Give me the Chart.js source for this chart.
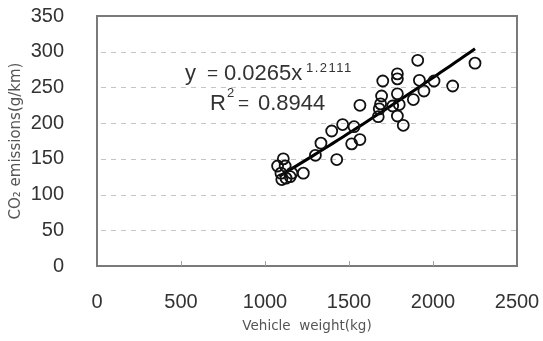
<!DOCTYPE html>
<html>
<head>
<meta charset="utf-8">
<script src="https://cdn.jsdelivr.net/npm/chart.js@4"></script>
<style>
  html, body { margin: 0; padding: 0; background: #fff; }
  #wrap { width: 543px; height: 341px; }
</style>
</head>
<body>
<div id="wrap"><canvas id="co2"></canvas></div>
<script>
// vehicle weight (kg) and CO2 emissions (g/km) per vehicle
const weights = [1909, 2250, 1701, 1788, 1788, 1919, 2006, 2117, 1694, 1788,
                 1946, 1883, 1688, 1760, 1799, 1674, 1788, 1823, 1565, 1680,
                 1397, 1462, 1530, 1516, 1565, 1427, 1333, 1300,
                 1109, 1075, 1095, 1100, 1125, 1150, 1160, 1228, 1120]
const emissions = [288, 284, 259, 269, 262, 260, 259, 252, 238, 241,
                   245, 233, 227, 224, 226, 209, 210, 197, 225, 220,
                   189, 198, 195, 171, 177, 149, 172, 155,
                   150, 140, 130, 121, 123, 125, 130, 130, 140]
const xTicks = [0, 500, 1000, 1500, 2000, 2500]
const yTicks = [0, 50, 100, 150, 200, 250, 300, 350]

// power-law fit y = a * x^b
const fitA = 0.0265, fitB = 1.2111, fitR2 = 0.8944
const fitFrom = 1085, fitTo = 2250

const points = weights.map((w, i) => ({x: w, y: emissions[i]}))
const trend = []
for (let i = 0; i <= 40; i++) {
    const x = fitFrom + (fitTo - fitFrom) * i / 40
    trend.push({x: x, y: fitA * Math.pow(x, fitB)})
}

const FONT = '"Liberation Sans", Arial, sans-serif'

// dashed horizontal grid behind the marks
const gridPlugin = {
    id: 'dashgrid',
    beforeDatasetsDraw(chart) {
        const ctx = chart.ctx, a = chart.chartArea, ys = chart.scales.y
        ctx.save()
        ctx.strokeStyle = '#c4c4c4'
        ctx.lineWidth = 1
        ctx.setLineDash([5, 5])
        yTicks.slice(1, -1).forEach(t => {
            const py = Math.round(ys.getPixelForValue(t)) + 0.5
            ctx.beginPath()
            ctx.moveTo(a.left + 4, py)
            ctx.lineTo(a.right, py)
            ctx.stroke()
        })
        ctx.restore()
    }
}

const boxPlugin = {
    id: 'box',
    afterDraw(chart) {
        const ctx = chart.ctx, a = chart.chartArea, xs = chart.scales.x
        ctx.save()
        ctx.strokeStyle = '#7a7a7a'
        ctx.lineWidth = 2
        ctx.strokeRect(a.left, a.top, a.right - a.left, a.bottom - a.top)
        ctx.lineWidth = 1
        ctx.strokeStyle = '#a0a0a0'
        xTicks.slice(1, -1).forEach(t => {
            const px = Math.round(xs.getPixelForValue(t)) + 0.5
            ctx.beginPath()
            ctx.moveTo(px, a.bottom)
            ctx.lineTo(px, a.bottom - 5)
            ctx.stroke()
        })
        // fit equation and R squared
        ctx.fillStyle = '#333'
        ctx.textBaseline = 'alphabetic'
        ctx.font = '22px ' + FONT
        ctx.fillText('y', 185, 80)
        ctx.fillText(fitA + 'x', 224, 80)
        ctx.fillText('R', 210, 110)
        ctx.fillText(String(fitR2), 258, 110)
        ctx.font = '19px ' + FONT
        ctx.fillText('=', 207, 79)
        ctx.fillText('=', 238, 109)
        ctx.font = '13px ' + FONT
        ctx.letterSpacing = '1.5px'
        ctx.fillText(fitB.toFixed(4), 306, 72)
        ctx.letterSpacing = '0px'
        ctx.fillText('2', 227, 97)
        ctx.restore()
    }
}

new Chart(document.getElementById('co2'), {
    type: 'scatter',
    data: {
        datasets: [{
            data: points,
            showLine: false,
            pointRadius: 5.5,
            pointBorderWidth: 1.8,
            pointBorderColor: '#111',
            pointBackgroundColor: 'rgba(0,0,0,0)'
        }, {
            data: trend,
            showLine: true,
            borderColor: '#000',
            borderWidth: 3,
            pointRadius: 0,
            fill: false
        }]
    },
    options: {
        responsive: true,
        maintainAspectRatio: false,
        animation: false,
        layout: {padding: {left: 0, right: 26, top: 16, bottom: 0}},
        plugins: {legend: {display: false}, tooltip: {enabled: false}},
        scales: {
            x: {
                type: 'linear',
                min: 0, max: 2500,
                afterBuildTicks: s => { s.ticks = xTicks.map(v => ({value: v})) },
                afterFit: s => { s.height = 75; s.paddingLeft = 0; s.paddingRight = 0 },
                grid: {display: false},
                border: {display: false},
                ticks: {
                    padding: 16,
                    color: '#333',
                    callback: v => String(v),
                    font: {family: FONT, size: 20}
                },
                title: {
                    display: true,
                    text: 'Vehicle  weight(kg)',
                    color: '#555',
                    padding: {top: 0, bottom: 6},
                    font: {family: '"DejaVu Sans", sans-serif', size: 13.5}
                }
            },
            y: {
                min: 0, max: 350,
                afterBuildTicks: s => { s.ticks = yTicks.map(v => ({value: v})) },
                afterFit: s => { s.width = 97; s.paddingTop = 0; s.paddingBottom = 0 },
                grid: {display: false},
                border: {display: false},
                ticks: {
                    padding: 25,
                    color: '#333',
                    callback: v => String(v),
                    font: {family: FONT, size: 20}
                },
                title: {
                    display: true,
                    text: 'CO\u2082 emissions(g/km)',
                    color: '#555',
                    padding: {top: 7, bottom: 0},
                    font: {family: '"DejaVu Sans", sans-serif', size: 15}
                }
            }
        }
    },
    plugins: [gridPlugin, boxPlugin]
});
</script>
</body>
</html>
